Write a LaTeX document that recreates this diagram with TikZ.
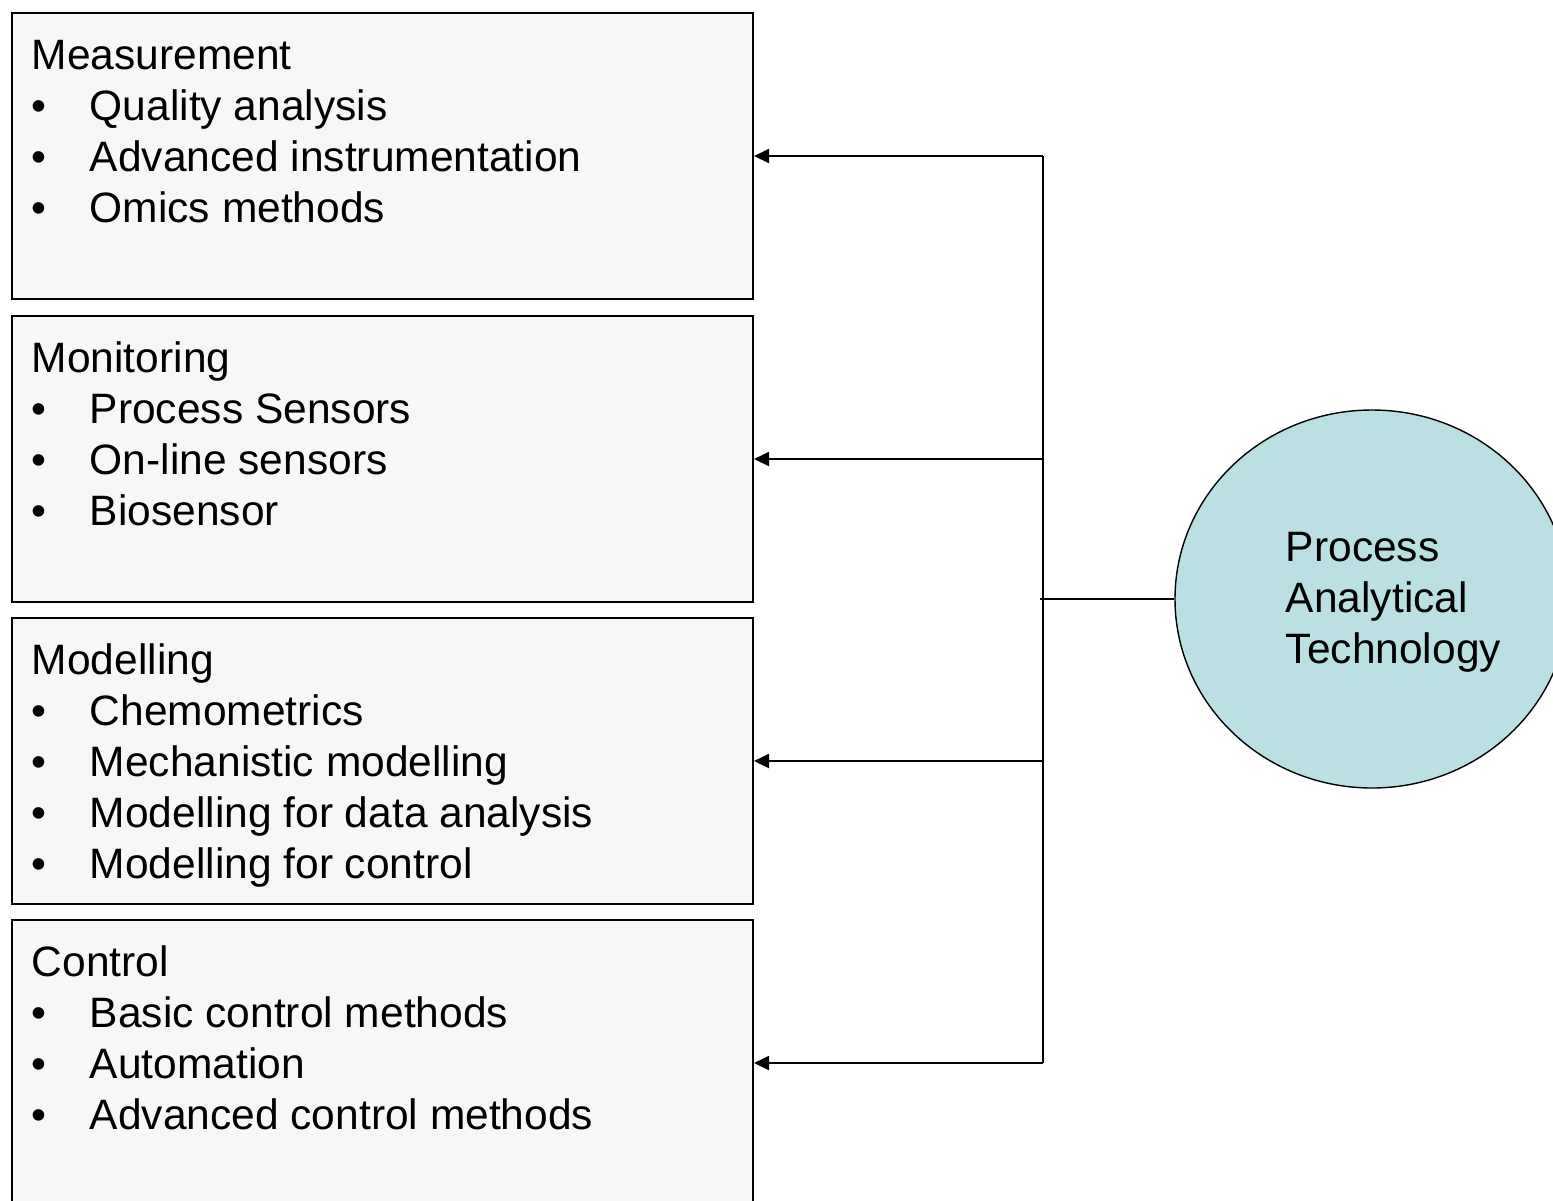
\documentclass[tikz,border=0pt]{standalone}
\usepackage{fontspec}
\setmainfont{Liberation Sans}
\usetikzlibrary{arrows.meta,shapes.geometric}

\definecolor{boxgray}{HTML}{F7F7F7}
\definecolor{patblue}{HTML}{BBE0E3}

\newdimen\px
\px=0.02cm
\newcommand\pitem[1]{\makebox[33pt][l]{\textbullet}#1}

\tikzset{
  topic/.style={draw, rectangle, line width=1.15pt, fill=boxgray, minimum width=741\px,
    minimum height=286\px, anchor=north west, inner sep=0pt},
  topictext/.style={anchor=base west, inner sep=0pt, font=\fontsize{24.2}{29}\selectfont},
  feed/.style={line width=1.15pt, -{Triangle[length=0.3cm,width=0.28cm]}},
}

\begin{document}
\begin{tikzpicture}[x=\px, y=-\px]
            \useasboundingbox (0,0) rectangle (1553,1201);
            \clip (0,0) rectangle (1553,1201);

            \node [topic] (meas) at (11,12) {};
            \node [topic] (moni) at (11,315) {};
            \node [topic] (mode) at (11,617) {};
            \node [topic] (ctrl) at (11,919) {};

            \node [topictext] (meastext) at ([shift={(20.5,57.5)}]meas.north west) {\begin{tabular}[t]{@{}l@{}}
              Measurement\\ \pitem{Quality analysis}\\ \pitem{Advanced instrumentation}\\ \pitem{Omics methods}\end{tabular}};
            \node [topictext] (monitext) at ([shift={(20.5,57.5)}]moni.north west) {\begin{tabular}[t]{@{}l@{}}
              Monitoring\\ \pitem{Process Sensors}\\ \pitem{On-line sensors}\\ \pitem{Biosensor}\end{tabular}};
            \node [topictext] (modetext) at ([shift={(20.5,57.5)}]mode.north west) {\begin{tabular}[t]{@{}l@{}}
              Modelling\\ \pitem{Chemometrics}\\ \pitem{Mechanistic modelling}\\ \pitem{Modelling for data analysis}\\ \pitem{Modelling for control}\end{tabular}};
            \node [topictext] (ctrltext) at ([shift={(20.5,57.5)}]ctrl.north west) {\begin{tabular}[t]{@{}l@{}}
              Control\\ \pitem{Basic control methods}\\ \pitem{Automation}\\ \pitem{Advanced control methods}\end{tabular}};

            \node [draw, ellipse, line width=0.8pt, fill=patblue, minimum width=394\px, minimum height=378\px, inner sep=0pt] (pat) at (1372,599) {};
            \node [topictext] (pattext) at ([shift={(-86.5,-37.5)}]pat.center) {\begin{tabular}[t]{@{}l@{}}
              Process\\ Analytical\\ Technology\end{tabular}};

            \coordinate (trunk) at (1043,0);
            \draw [line width=1.15pt] (trunk |- meas.east) -- (trunk |- ctrl.east);
            \foreach \b in {meas,moni,mode,ctrl}
              \draw [feed] (trunk |- \b.east) -- (\b.east);
            \draw [line width=0.9pt] (pat.west) -- ([xshift=-0.06cm]trunk |- pat.west);
\end{tikzpicture}
\end{document}
